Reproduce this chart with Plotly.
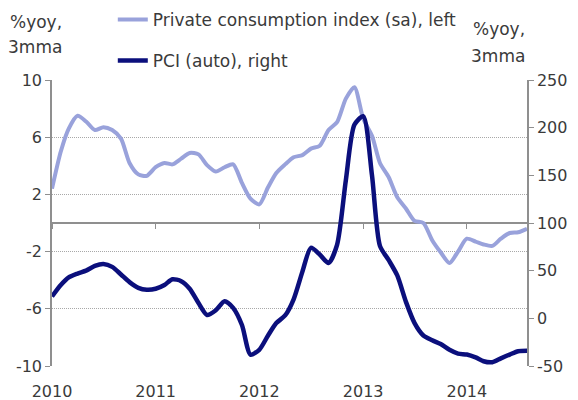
import pandas as pd
import plotly.graph_objects as go

# ---- data (monthly, Jan 2010 - Aug 2014) ----
start_month = "2010-01-01"
n_months = 56
private_consumption = [2.4, 5.0, 6.6, 7.5, 7.1, 6.5, 6.7, 6.5, 5.9, 4.2,
                       3.4, 3.3, 3.9, 4.2, 4.1, 4.5, 4.9, 4.8, 4.05, 3.6,
                       3.9, 4.1, 2.8, 1.7, 1.3, 2.5, 3.5, 4.1, 4.6, 4.75,
                       5.2, 5.4, 6.5, 7.05, 8.7, 9.5, 7.3, 6.1, 4.2, 3.2,
                       1.8, 1.0, 0.15, 0.0, -1.2, -2.05, -2.8, -2.0, -1.1, -1.3,
                       -1.5, -1.6, -1.1, -0.7, -0.65, -0.4]
pci_auto = [23, 35, 43, 47, 50, 55, 57, 54, 46, 38,
            32, 30, 31, 35, 41, 39, 31, 16, 3.5, 8.5,
            18, 11, -7, -38, -33, -18, -5, 3, 20, 49,
            74, 67, 58, 77, 145, 203, 212, 150, 76, 61,
            45, 17, -5, -18, -23, -27, -33, -37, -38, -41,
            -45, -46, -42, -38, -34.5, -34]
left_ticks = [-10, -6, -2, 2, 6, 10]
left_labels = ["-10", "-6", "-2", "2", "6", "10"]
right_ticks = [-50, 0, 50, 100, 150, 200, 250]
right_labels = ["-50", "0", "50", "100", "150", "200", "250"]
year_ticks = ["2010-01-01", "2011-01-01", "2012-01-01", "2013-01-01", "2014-01-01"]
year_labels = ["2010", "2011", "2012", "2013", "2014"]
series_names = ["Private consumption index (sa), left", "PCI (auto), right"]

dates = pd.date_range(start_month, periods=n_months, freq="MS")

FONT = "DejaVu Sans"
TXT = "#3a3a3a"
AX = "#8f8f8f"
LIGHT = "#99A2DB"
DARK = "#0B0F7C"

fig = go.Figure()
fig.add_trace(go.Scatter(
    x=dates, y=private_consumption, name=series_names[0], mode="lines",
    line=dict(color=LIGHT, width=4, shape="spline", smoothing=0.7),
    xaxis="x", yaxis="y", legendgroup="a"))
fig.add_trace(go.Scatter(
    x=dates, y=pci_auto, name=series_names[1], mode="lines",
    line=dict(color=DARK, width=4.5, shape="spline", smoothing=0.7),
    xaxis="x", yaxis="y2", legendgroup="b"))
# invisible helper trace to carry the zero-level axis
fig.add_trace(go.Scatter(x=[dates[0]], y=[0], mode="markers", marker=dict(opacity=0),
                         showlegend=False, hoverinfo="skip", xaxis="x2", yaxis="y"))

xr = [dates[0], dates[-1]]
fig.update_layout(
    width=578, height=400,
    margin=dict(l=52, r=51, t=80, b=34, autoexpand=False),
    paper_bgcolor="white", plot_bgcolor="white",
    font=dict(family=FONT, size=16, color=TXT),
    showlegend=True,
    legend=dict(x=0.128, y=1.273, xanchor="left", yanchor="top",
                bgcolor="rgba(0,0,0,0)", font=dict(size=17, color=TXT),
                tracegroupgap=16, itemwidth=30),
    xaxis=dict(type="date", range=xr, tickvals=year_ticks, ticktext=year_labels,
               showgrid=False, zeroline=False, showline=False, automargin=False,
               ticks="outside", ticklen=11, tickcolor="rgba(0,0,0,0)",
               tickfont=dict(size=16, color=TXT)),
    xaxis2=dict(type="date", range=xr, overlaying="x", anchor="free", position=0.5,
                tickvals=year_ticks, showticklabels=False, showgrid=False, zeroline=False,
                showline=True, linecolor=AX, linewidth=1.5, automargin=False,
                ticks="outside", ticklen=5, tickcolor=AX, tickwidth=1, layer="below traces"),
    yaxis=dict(range=[-10, 10], tickvals=left_ticks, ticktext=left_labels, showgrid=True,
               gridcolor="#a8a8a8", gridwidth=1, griddash="1px,1px", automargin=False,
               zeroline=False, showline=True, linecolor=AX, linewidth=1.5,
               ticks="outside", ticklen=5, tickcolor=AX,
               tickfont=dict(size=16, color=TXT)),
    yaxis2=dict(range=[-50, 250], tickvals=right_ticks, ticktext=right_labels,
                overlaying="y", side="right", automargin=False,
                showgrid=False, zeroline=False, showline=True, linecolor=AX, linewidth=1.5,
                ticks="outside", ticklen=5, tickcolor=AX,
                tickfont=dict(size=16, color=TXT)),
)

def ann(text, x, y, xanchor):
    fig.add_annotation(text=text, xref="paper", yref="paper", x=x, y=y,
                       xanchor=xanchor, yanchor="middle", showarrow=False,
                       font=dict(family=FONT, size=17, color=TXT))

ann("%yoy,", -0.0926, 1.203, "left")
ann("3mma", -0.0968, 1.115, "left")
ann("%yoy,", 1.0, 1.178, "right")
ann("3mma", 1.0, 1.084, "right")

fig.write_html("out.html", config={"displayModeBar": False},
               post_script="document.body.style.margin='0';document.body.style.overflow='hidden';")
